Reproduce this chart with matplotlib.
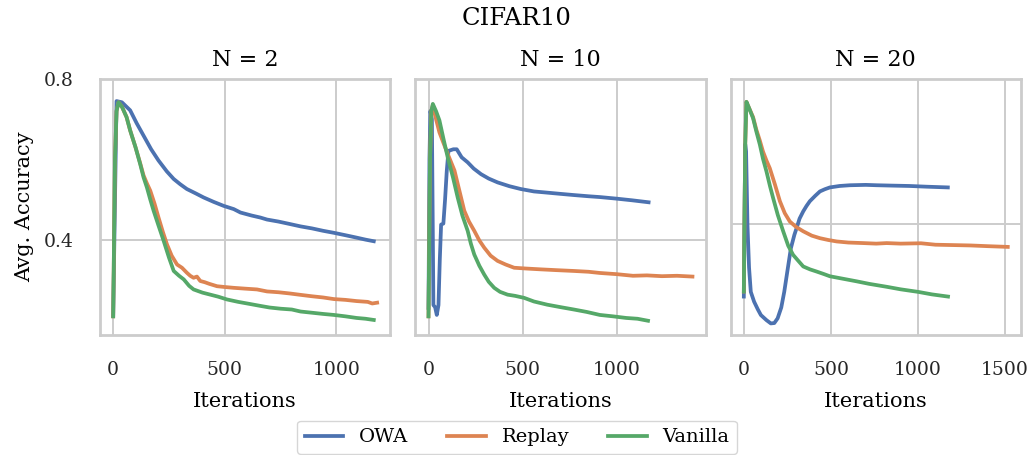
import matplotlib
matplotlib.use("Agg")
import matplotlib.pyplot as plt

# ---- data ----
titles = ["N = 2", "N = 10", "N = 20"]
methods = ["OWA", "Replay", "Vanilla"]
colors = ["#4C72B0", "#DD8452", "#55A868"]

# N = 2
owa_x1 = [0, 15, 39, 76, 105, 136, 170, 203, 240, 271, 300, 330, 370, 405, 450, 495, 540, 570, 620, 659,
          689, 740, 790, 839, 890, 940, 988, 1040, 1090, 1130, 1167]
owa_y1 = [0.21, 0.745, 0.742, 0.722, 0.69, 0.659, 0.625, 0.597, 0.57, 0.551, 0.538, 0.526, 0.515, 0.505, 0.494,
          0.484, 0.476, 0.4675, 0.46, 0.455, 0.45, 0.445, 0.439, 0.433, 0.428, 0.422, 0.417, 0.411, 0.405, 0.400, 0.396]
rep_x1 = [0, 8, 15, 24, 40, 60, 76, 100, 121, 136, 151, 166, 185, 203, 222, 241, 262, 286, 308, 330, 345, 360,
          375, 390, 410, 430, 465, 500, 540, 590, 644, 689, 740, 790, 839, 890, 940, 988, 1040, 1090, 1140, 1160, 1182]
rep_y1 = [0.209, 0.6, 0.72, 0.742, 0.73, 0.705, 0.672, 0.63, 0.59, 0.56, 0.54, 0.522, 0.49, 0.455, 0.42, 0.388,
          0.36, 0.338, 0.33, 0.3175, 0.31, 0.305, 0.308, 0.297, 0.294, 0.29, 0.284, 0.282, 0.28, 0.278, 0.276, 0.271,
          0.269, 0.266, 0.2625, 0.259, 0.256, 0.252, 0.25, 0.247, 0.245, 0.241, 0.243]
van_x1 = [0, 8, 15, 24, 40, 60, 76, 100, 121, 136, 151, 166, 181, 203, 226, 250, 271, 295, 316, 340, 360, 400,
          435, 470, 510, 560, 610, 659, 700, 750, 800, 839, 890, 940, 988, 1040, 1090, 1130, 1167]
van_y1 = [0.209, 0.6, 0.72, 0.742, 0.73, 0.705, 0.672, 0.63, 0.588, 0.555, 0.53, 0.5, 0.472, 0.435, 0.397, 0.355,
          0.322, 0.31, 0.301, 0.285, 0.276, 0.268, 0.263, 0.258, 0.251, 0.245, 0.24, 0.235, 0.231, 0.228, 0.226,
          0.221, 0.218, 0.215, 0.2125, 0.209, 0.205, 0.203, 0.20]

# N = 10
owa_x2 = [0, 5, 10, 18, 26, 35, 44, 53, 60, 67, 79, 88, 97, 106, 132, 150, 176, 208, 240, 279,
          320, 367, 430, 490, 560, 631, 700, 772, 850, 910, 1000, 1080, 1169]
owa_y2 = [0.23, 0.6, 0.72, 0.70, 0.237, 0.232, 0.2125, 0.237, 0.35, 0.4375, 0.44, 0.5, 0.571, 0.621, 0.625,
          0.625, 0.605, 0.5925, 0.577, 0.563, 0.552, 0.5425, 0.533, 0.526, 0.52, 0.517, 0.514,
          0.511, 0.508, 0.506, 0.502, 0.498, 0.493]
rep_x2 = [0, 8, 15, 23, 40, 58, 80, 105, 138, 165, 190, 215, 243, 270, 296, 330, 367, 410, 455, 520, 596, 680,
          772, 850, 910, 1000, 1086, 1160, 1240, 1320, 1402]
rep_y2 = [0.209, 0.6, 0.72, 0.735, 0.7, 0.667, 0.64, 0.61, 0.572, 0.52, 0.472, 0.445, 0.422, 0.398, 0.38, 0.36,
          0.347, 0.338, 0.33, 0.328, 0.326, 0.324, 0.322, 0.32, 0.317, 0.314, 0.31, 0.311, 0.309, 0.31, 0.308]
van_x2 = [0, 8, 15, 23, 40, 58, 80, 102, 130, 155, 180, 208, 225, 243, 270, 296, 320, 349, 380, 420, 460, 508,
          560, 631, 700, 772, 840, 910, 980, 1050, 1110, 1166]
van_y2 = [0.209, 0.6, 0.72, 0.738, 0.72, 0.697, 0.65, 0.605, 0.555, 0.505, 0.46, 0.422, 0.39, 0.363, 0.335, 0.313,
          0.295, 0.28, 0.27, 0.263, 0.26, 0.255, 0.246, 0.238, 0.232, 0.226, 0.22, 0.2125, 0.209, 0.205, 0.203, 0.198]

# N = 20
owa_x3 = [0, 8, 13, 21, 30, 40, 59, 80, 98, 130, 155, 175, 194, 215, 232, 250, 270, 290, 303, 320,
          341, 360, 379, 410, 437, 465, 494, 550, 609, 700, 763, 850, 950, 1050, 1171]
owa_y3 = [0.2, 0.62, 0.6, 0.397, 0.28, 0.213, 0.186, 0.165, 0.149, 0.135, 0.126, 0.127, 0.14, 0.17, 0.213,
          0.27, 0.333, 0.37, 0.389, 0.415, 0.435, 0.45, 0.463, 0.478, 0.49, 0.496, 0.501, 0.505, 0.507,
          0.508, 0.507, 0.506, 0.505, 0.503, 0.501]
rep_x3 = [0, 8, 15, 30, 53, 72, 92, 110, 130, 149, 178, 207, 235, 264, 300, 341, 390, 437, 485, 533, 600, 686,
          760, 820, 900, 1017, 1100, 1200, 1300, 1400, 1515]
rep_y3 = [0.214, 0.62, 0.737, 0.72, 0.695, 0.66, 0.63, 0.6, 0.575, 0.554, 0.51, 0.463, 0.43, 0.407, 0.392, 0.38,
          0.368, 0.361, 0.356, 0.352, 0.349, 0.3475, 0.346, 0.3475, 0.346, 0.347, 0.343, 0.342, 0.341, 0.339, 0.337]
van_x3 = [0, 8, 15, 30, 53, 72, 92, 110, 130, 150, 168, 195, 226, 255, 283, 310, 341, 380, 418, 460, 494, 560,
          648, 720, 820, 900, 1000, 1080, 1172]
van_y3 = [0.214, 0.62, 0.737, 0.72, 0.692, 0.655, 0.619, 0.58, 0.545, 0.505, 0.472, 0.425, 0.38, 0.34, 0.315,
          0.3, 0.283, 0.275, 0.269, 0.262, 0.256, 0.25, 0.242, 0.235, 0.227, 0.22, 0.213, 0.206, 0.2]

panels = [
    [(owa_x1, owa_y1), (rep_x1, rep_y1), (van_x1, van_y1)],
    [(owa_x2, owa_y2), (rep_x2, rep_y2), (van_x2, van_y2)],
    [(owa_x3, owa_y3), (rep_x3, rep_y3), (van_x3, van_y3)],
]
ylims = [(0.1625, 0.8), (0.1625, 0.8), (0.094, 0.8)]

# ---- style ----
plt.rcParams['font.family'] = ['DejaVu Serif']
plt.rcParams['font.size'] = 15

fig, axes = plt.subplots(1, 3, figsize=(10.34, 4.55), dpi=100)
fig.subplots_adjust(left=0.0967, right=0.9874, bottom=0.2637, top=0.8264, wspace=0.086)

for i, ax in enumerate(axes):
    for (xs, ys), name, c in zip(panels[i], methods, colors):
        ax.plot(xs, ys, color=c, lw=2.7, label=name)
    ax.set_ylim(*ylims[i])
    ax.set_yticks([0.4, 0.8])
    ax.set_xticks([0, 500, 1000, 1500] if i == 2 else [0, 500, 1000])
    ax.set_title(titles[i], pad=9, fontsize=16)
    ax.set_xlabel("Iterations", labelpad=9)
    ax.grid(True, color="#cccccc", lw=1.4)
    ax.set_axisbelow(True)
    for s in ax.spines.values():
        s.set_color("#cccccc")
        s.set_linewidth(2)
    ax.tick_params(length=0, pad=19, colors="#262626", labelsize=13.5)
    if i > 0:
        ax.set_yticklabels([])

axes[0].set_ylabel("Avg. Accuracy", labelpad=7)
fig.suptitle("CIFAR10", y=0.96, va="center", fontsize=17.5)

handles, labels = axes[0].get_legend_handles_labels()
fig.legend(handles, labels, loc="upper center", bbox_to_anchor=(0.5, 0.097), ncol=3,
           frameon=True, edgecolor="#cccccc", fancybox=True, fontsize=14)

fig.savefig("out.png", dpi=100)
